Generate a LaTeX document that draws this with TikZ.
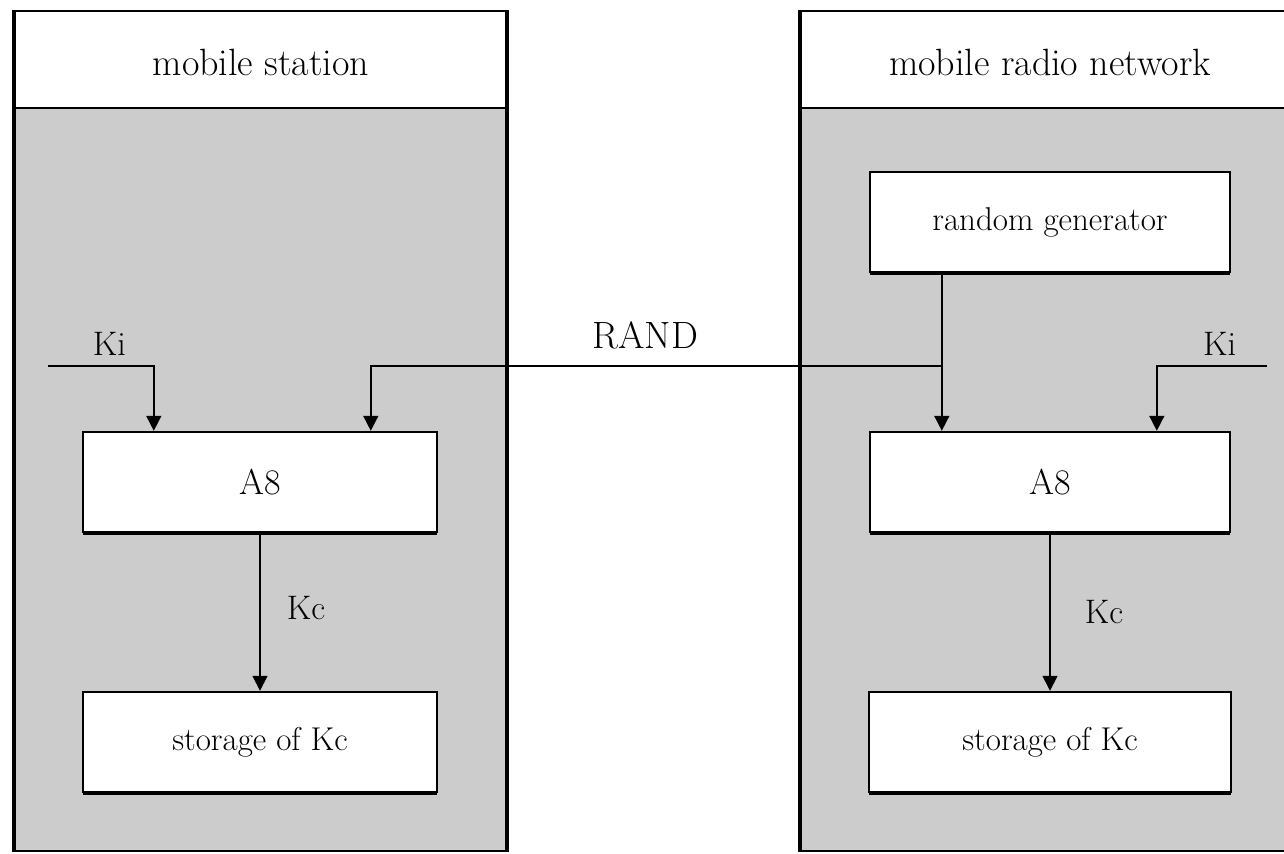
\documentclass[tikz,border=0pt]{standalone}
\usepackage{xcolor}
\usetikzlibrary{arrows.meta,calc,shadows,positioning}
\definecolor{panelgray}{HTML}{CCCCCC}

\tikzset{
  blockbox/.style={draw,fill=white,line width=1.2pt,minimum width=177pt,minimum height=50pt,inner sep=0pt,
    drop shadow={shadow xshift=0pt,shadow yshift=-1.6pt,opacity=1,fill=black},font=\fontsize{16.5}{20}\selectfont},
  wire/.style={line width=.8pt},
  feed/.style={wire,-{Triangle[width=7.5pt,length=7.5pt]}},
  keylabel/.style={font=\fontsize{17}{20}\selectfont,inner sep=0pt},
  headlabel/.style={font=\fontsize{19}{23}\selectfont,inner sep=0pt},
  thinedge/.style={line width=1pt},
  sideedge/.style={line width=2.4pt}
}

\begin{document}
\begin{tikzpicture}[x=.5pt,y=-.5pt]
\clip (0,0) rectangle (1284,854);
\fill[white] (0,0) rectangle (1284,854);
% mobile station
\fill[panelgray] (14,108) rectangle (507,851);
\draw[thinedge] (14,11)--(507,11) (14,108)--(507,108) (14,851)--(507,851);
\draw[sideedge] (14,10)--(14,852) (507,10)--(507,852);
\node[headlabel] (ms) at (261,62){mobile station};
% mobile radio network
\fill[panelgray] (800,108) rectangle (1300,851);
\draw[thinedge] (800,11)--(1300,11) (800,108)--(1300,108) (800,851)--(1300,851);
\draw[sideedge] (800,10)--(800,852);
\node[headlabel] (mrn) at (1050,62){mobile radio network};

\node[blockbox,font=\fontsize{18}{22}\selectfont] (a8l) at (260,482){A8};
\node[blockbox,below=78.8pt of a8l] (sl){storage of Kc};
\node[blockbox,minimum width=180pt] (rg) at (1050,222){random generator};
\node[blockbox,minimum width=180pt,font=\fontsize{18}{22}\selectfont,below=78.8pt of rg] (a8r){A8};
\node[blockbox,minimum width=181pt,below=78.8pt of a8r] (sr){storage of Kc};

\coordinate (kiinl) at (48,366);
\coordinate (kiinr) at (1267,366);
\coordinate (randtap) at (943,366);
\draw[feed] (kiinl) -| ($(a8l.north west)+(72,0)$) node[keylabel,pos=.29,above=5pt]{Ki};
\draw[feed] (randtap) -| ($(a8l.north west)+(289,0)$) node[keylabel,font=\fontsize{19}{23}\selectfont,pos=.26,above=8pt]{RAND};
\draw[feed] ($(rg.south west)+(73,0)$) -- ($(a8r.north west)+(73,0)$);
\draw[feed] (kiinr) -| ($(a8r.north west)+(288,0)$) node[keylabel,pos=.215,above=5pt]{Ki};
\draw[feed] (a8l.south) -- (sl.north) node[keylabel,midway,right=13pt,yshift=2pt]{Kc};
\draw[feed] (a8r.south) -- (sr.north) node[keylabel,midway,right=17pt]{Kc};
\end{tikzpicture}
\end{document}
